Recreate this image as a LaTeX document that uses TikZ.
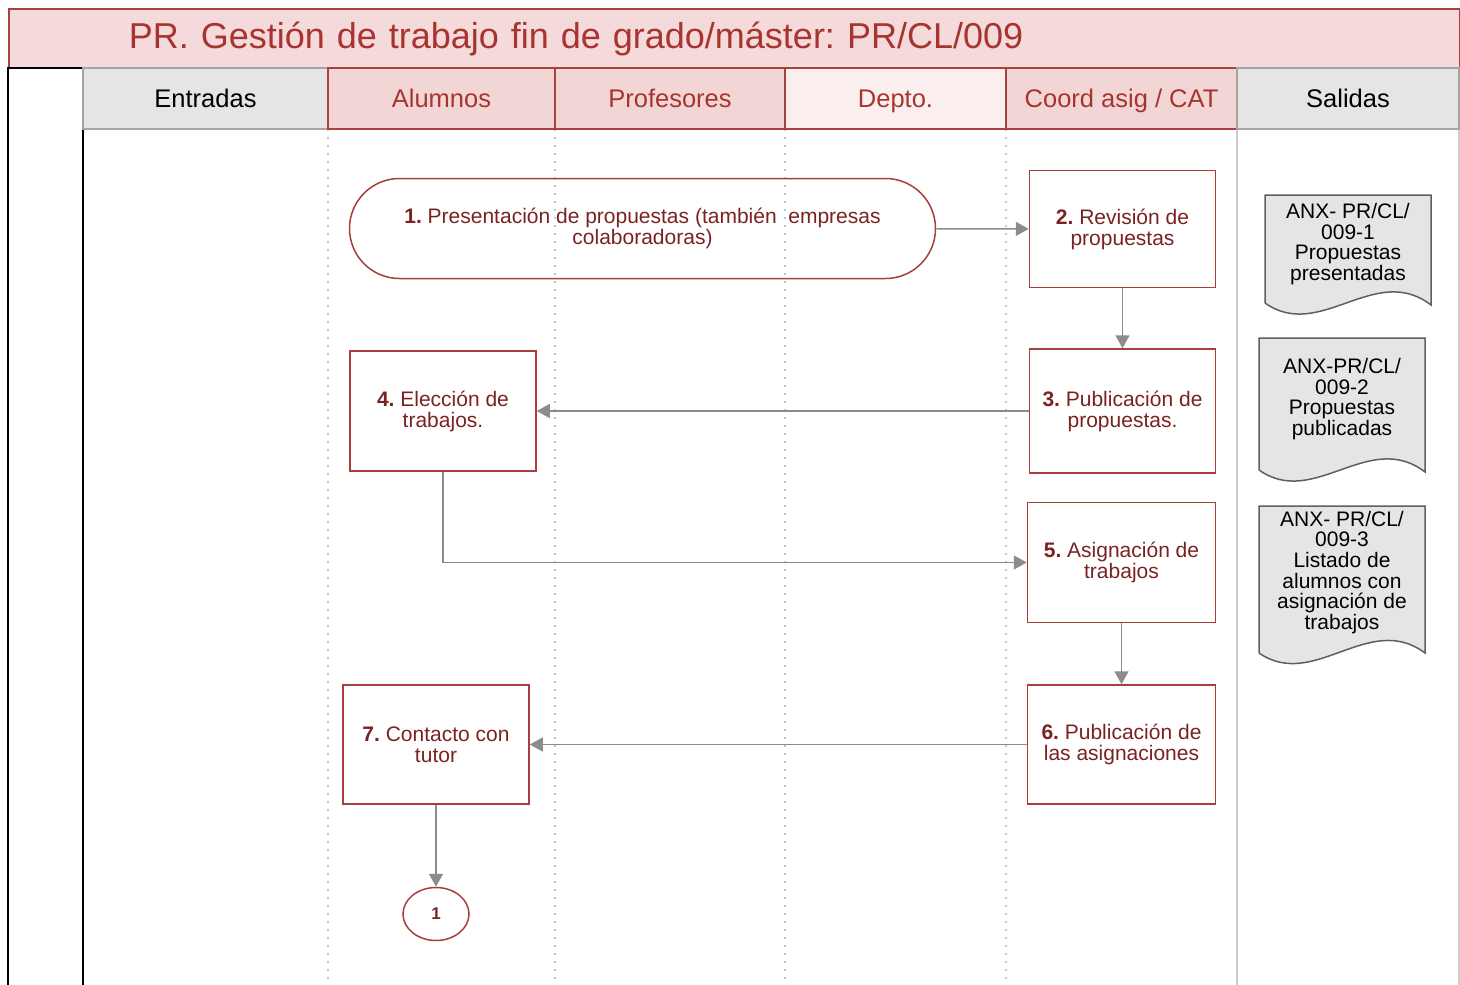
\documentclass[tikz,border=0pt]{standalone}
\usepackage{fontspec}
\setmainfont{Liberation Sans}
\usetikzlibrary{arrows.meta, positioning, shapes}
\frenchspacing

\definecolor{barfill}{RGB}{244,218,218}
\definecolor{barline}{RGB}{168,66,60}
\definecolor{lanefill}{RGB}{242,214,214}
\definecolor{deptofill}{RGB}{250,238,238}
\definecolor{grayfill}{RGB}{229,229,229}
\definecolor{grayline}{RGB}{165,165,165}
\definecolor{headred}{RGB}{168,52,48}
\definecolor{textred}{RGB}{122,34,34}
\definecolor{boxred}{RGB}{168,62,58}
\definecolor{linkgray}{RGB}{140,140,140}
\definecolor{docline}{RGB}{95,95,95}

\begin{document}
\begin{tikzpicture}[
    x=1pt, y=-1pt,
    titlebar/.style={draw=barline, fill=barfill, line width=1.5pt,
    anchor=west, minimum height=59pt, inner xsep=120pt, text width=1211pt,
    align=left, text=headred, font=\fontsize{36}{40}\selectfont},
    lane/.style={draw=barline, fill=lanefill, line width=1.5pt, text centered,
    minimum height=61pt, inner sep=0pt, text=headred,
    text height=20.5pt, text depth=3.5pt,
    font=\fontsize{25.5}{28}\selectfont},
    lanegray/.style={lane, draw=grayline, fill=grayfill, line width=2pt, text=black},
    proc/.style={draw=boxred, line width=1.5pt, align=center, text=textred,
    minimum width=186pt, minimum height=119pt, inner sep=0pt,
    font=\fontsize{21}{21}\selectfont},
    term/.style={proc, rounded corners=50pt, minimum width=586pt, minimum height=100pt},
    conn/.style={draw=boxred, line width=1.5pt, ellipse, text=textred,
    minimum width=66pt, minimum height=53pt, inner sep=0pt,
    font=\fontsize{17}{17}\selectfont\bfseries},
    docu/.style={align=center, text=black, inner sep=0pt,
    font=\fontsize{21}{20.7}\selectfont},
    docshape/.style={draw=docline, fill=grayfill, line width=1.5pt},
    divider/.style={draw=gray!45, line width=2pt, dash pattern=on 2pt off 6pt},
    border/.style={draw=gray!40, line width=1.5pt},
    link/.style={color=linkgray, line width=1.5pt,
    -{Triangle[length=13pt, width=14pt]}}
    ]
    \useasboundingbox (0,0) rectangle (1460,985);

    % title and lanes
    \node[titlebar] (title) at (8,38.5) {PR. Gestión de trabajo fin de grado/máster: PR/CL/009};
    \draw[black, line width=2pt] (8,985) -- (8,68) -- (83,68) -- (83,985);

    \draw[divider] (328,129) -- (328,985);
    \draw[divider] (555,129) -- (555,985);
    \draw[divider] (785,129) -- (785,985);
    \draw[divider] (1006,129) -- (1006,985);
    \draw[border] (1237,129) -- (1237,985);
    \draw[border] (1459,129) -- (1459,985);

    \node[lanegray, minimum width=245pt] (hin)   at (205.5,98.5)  {Entradas};
    \node[lane, minimum width=227pt]     (halu)  at (441.5,98.5)  {Alumnos};
    \node[lane, minimum width=230pt]     (hprof) at (670,98.5)    {Profesores};
    \node[lane, minimum width=221pt, fill=deptofill] (hdep) at (895.5,98.5) {Depto.};
    \node[lane, minimum width=231pt]     (hcoord) at (1121.5,98.5) {Coord asig / CAT};
    \node[lanegray, minimum width=222pt] (hout)  at (1348,98.5)   {Salidas};

    % process
    \node[term] (p1) at (642.5,228.5)
        {{\bfseries 1.} Presentación de propuestas (también~ empresas\\colaboradoras)};
    \node[proc, minimum height=117pt] (p2) at (1122.5,229)
        {{\bfseries 2.} Revisión de\\propuestas};
    \node[proc, minimum height=124pt] (p3) [below=60pt of p2]
        {{\bfseries 3.} Publicación de\\propuestas.};
    \node[proc, minimum height=120pt] (p4) [left=492pt of p3]
        {{\bfseries 4.} Elección de\\trabajos.};
    \node[proc, minimum width=188pt, minimum height=120pt] (p5) at (1121.5,562.5)
        {{\bfseries 5.} Asignación de\\trabajos};
    \node[proc, minimum width=188pt] (p6) [below=61pt of p5]
        {{\bfseries 6.} Publicación de\\las asignaciones};
    \node[proc] (p7) [left=497pt of p6]
        {{\bfseries 7.} Contacto con\\tutor};
    \node[conn] (c1) [below=82pt of p7] {1};

    \path[link]
    (p1)  edge  (p2)
    (p2)  edge  (p3)
    (p3)  edge  (p4)
    (p5)  edge  (p6)
    (p6)  edge  (p7)
    (p7)  edge  (c1)
    ;
    \draw[link] (p4) |- (p5);

    % outputs
    \draw[docshape] (1265,303) -- (1265,195) -- (1431,195) -- (1431,305)
        .. controls (1375,262) and (1320,342) .. (1265,303);
    \draw[docshape] (1259,470) -- (1259,338) -- (1425,338) -- (1425,472)
        .. controls (1369,429) and (1314,509) .. (1259,470);
    \draw[docshape] (1259,653) -- (1259,506) -- (1425,506) -- (1425,653)
        .. controls (1369,611) and (1314,691) .. (1259,653);

    \node[docu] (d1) at (1348,244) {ANX- PR/CL/\\009-1\\Propuestas\\presentadas};
    \node[docu] (d2) at (1342,399) {ANX-PR/CL/\\009-2\\Propuestas\\publicadas};
    \node[docu] (d3) at (1342,572.5) {ANX- PR/CL/\\009-3\\Listado de\\alumnos con\\asignación de\\trabajos};
  \end{tikzpicture}
\end{document}
